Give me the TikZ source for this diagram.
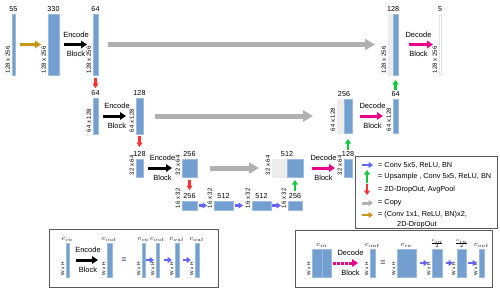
\documentclass[tikz,border=0pt]{standalone}
\usepackage{fontspec}
\setmainfont{Liberation Sans}
\usetikzlibrary{arrows.meta,fit}

\definecolor{barblue}{RGB}{114,159,207}
\definecolor{litegray}{RGB}{236,236,236}
\definecolor{cpygray}{RGB}{176,176,176}
\definecolor{gold}{RGB}{200,150,20}
\definecolor{convblue}{RGB}{100,100,255}
\definecolor{upgreen}{RGB}{20,200,60}
\definecolor{dropred}{RGB}{255,50,50}
\definecolor{panelgray}{RGB}{90,90,90}

\newcommand{\layer}[5]{\node[bar,fit={(#2,#3) (#4,#5)}] (#1) {};}

\begin{document}
\begin{tikzpicture}[x=1pt, y=-1pt,
    bar/.style={fill=barblue, draw=barblue!70!white, line width=0.5pt, inner sep=0pt, outer sep=0pt},
    lite/.style={bar, fill=litegray, draw=litegray},
    num/.style={font=\fontsize{7.2}{8}\selectfont, above=1.5pt, inner sep=1pt},
    dim/.style={font=\fontsize{6}{7}\selectfont, rotate=90, anchor=south west, inner sep=1.8pt},
    wh/.style={dim, font=\fontsize{4.8}{5}\selectfont, inner sep=1.5pt},
    cc/.style={font=\fontsize{7}{8}\selectfont, above=0.5pt, inner sep=0.5pt},
    blk/.style={font=\fontsize{7.5}{9}\selectfont, inner sep=2.5pt, text=black},
    lgd/.style={font=\fontsize{7.3}{8}\selectfont, anchor=west, inner sep=1pt},
    fat/.style={line width=3pt, -{Triangle[length=6pt,width=7.5pt]}},
    enc/.style={fat, black},
    dec/.style={fat, magenta},
    ini/.style={fat, gold},
    cpy/.style={line width=5pt, cpygray, -{Triangle[length=10pt,width=11pt]}},
    small/.style={line width=2.5pt, -{Triangle[length=4.5pt,width=6pt]}},
    conv/.style={small, convblue},
    upa/.style={small, upgreen},
    drop/.style={small, dropred},
    panel/.style={draw=panelgray, line width=0.8pt, inner sep=0pt}]
  \useasboundingbox (0,0) rectangle (500,292);

  % encoder
  \layer{i0}{12}{14}{15}{75}
  \layer{i1}{48}{14}{59}{75}
  \layer{e1}{93}{14}{98}{75}
  \layer{e2a}{93}{98}{98}{134}
  \layer{e2}{136}{98}{143}{134}
  \layer{e3a}{136}{159}{143}{177}
  \layer{e3}{182}{159}{197}{177}
  % bottleneck
  \layer{b1}{182}{201}{197}{210}
  \layer{b2}{214}{201}{233}{210}
  \layer{b3}{252}{201}{271}{210}
  \layer{b4}{288}{201}{302}{210}
  % decoder
  \node[lite, fit={(272,159) (287,177)}] (d3l) {};
  \layer{d3}{287}{159}{303}{177}
  \layer{u3}{344}{159}{352}{177}
  \node[lite, fit={(337,99) (344,133)}] (d2l) {};
  \layer{d2}{344}{99}{352}{133}
  \layer{u2}{393}{99}{398}{133}
  \node[lite, fit={(388,14) (393,75)}] (d1l) {};
  \layer{d1}{393}{14}{398}{75}
  \node[bar, fill=white, draw=gray!20, fit={(439,14) (441,75)}] (out) {};

  \foreach \n/\t in {i0/55, i1/330, e1/64, e2a/64, e2/128, e3a/128, e3/256, b1/256, b2/512, b3/512, b4/256, u3/128, u2/64, out/5}
    \node[num] (\n-t) at (\n.north) {\t};
  \node[num] (d1-t) at (d1l.north east) {128};
  \node[num] (d2-t) at (d2l.north east) {256};
  \node[num] (d3-t) at (d3l.north east) {512};

  \foreach \n/\t in {i0/128 x 256, i1/128 x 256, e1/128 x 256, d1l/128 x 256, out/128 x 256, e2a/64 x 128, e2/64 x 128, d2l/64 x 128, u2/64 x 128, e3a/32 x 64, e3/32 x 64, d3l/32 x 64, u3/32 x 64, b1/16 x 32, b2/16 x 32, b3/16 x 32, b4/16 x 32}
    \node[dim] (\n-d) at (\n.south west) {\t};

  \draw[ini, shorten <=5pt, shorten >=7pt] (i0) -- (i1);
  \draw[enc, shorten <=5pt, shorten >=6pt] (i1) -- node[blk, above=3pt] (en1) {Encode} node[blk, below=3pt] (bl1) {Block} (e1);
  \draw[enc, shorten <=5pt, shorten >=10pt] (e2a) -- node[blk, above=3pt] (en2) {Encode} node[blk, below=3pt] (bl2) {Block} (e2);
  \draw[enc, shorten <=5pt, shorten >=10pt] (e3a) -- node[blk, above=3pt] (en3) {Encode} node[blk, below=3pt] (bl3) {Block} (e3);

  \draw[cpy, shorten <=10pt, shorten >=13pt] (e1) -- (d1l);
  \draw[cpy, shorten <=12pt, shorten >=24pt] (e2) -- (d2l);
  \draw[cpy, shorten <=13pt, shorten >=13pt] (e3) -- (d3l);

  \draw[dec, shorten <=11pt, shorten >=6pt] (d1) -- node[blk, above=3pt] (de1) {Decode} node[blk, below=3pt] (dk1) {Block} (out);
  \draw[dec, shorten <=8pt, shorten >=10pt] (d2) -- node[blk, above=3pt] (de2) {Decode} node[blk, below=3pt] (dk2) {Block} (u2);
  \draw[dec, shorten <=9pt, shorten >=9pt] (d3) -- node[blk, above=3pt] (de3) {Decode} node[blk, below=3pt] (dk3) {Block} (u3);

  \draw[drop, shorten <=3pt, shorten >=10pt] (e1) -- (e2a);
  \draw[drop, shorten <=2pt, shorten >=12pt] (e2) -- (e3a);
  \draw[drop, shorten <=3pt, shorten >=11pt] (e3) -- (b1);
  \draw[upa, shorten <=10pt, shorten >=3pt] (b4) -- (d3);
  \draw[upa, shorten <=9pt, shorten >=6pt] (u3) -- (d2);
  \draw[upa, shorten <=9pt, shorten >=5pt] (u2) -- (d1);

  \draw[conv, shorten <=2pt, shorten >=7pt] (b1) -- (b2);
  \draw[conv, shorten <=2pt, shorten >=9pt] (b2) -- (b3);
  \draw[conv, shorten <=1pt, shorten >=7pt] (b3) -- (b4);

  % legend
  \node[panel, fit={(355,156) (497,228)}] (lg) {};
  \node[lgd] (l1) at (377,165) {= Conv 5x5, ReLU, BN};
  \node[lgd] (l2) at (377,177) {= Upsample , Conv 5x5, ReLU, BN};
  \node[lgd] (l3) at (377,190) {= 2D-DropOut, AvgPool};
  \node[lgd] (l4) at (377,203) {= Copy};
  \node[lgd] (l5) at (377,215) {= (Conv 1x1, ReLU, BN)x2,};
  \node[lgd] (l6) at (396,225) {2D-DropOut};
  \draw[conv] ([xshift=-15pt]l1.west) -- ++(11,0);
  \draw[upa] ([xshift=-10pt,yshift=-6pt]l2.west) -- ++(0,-13);
  \draw[drop] ([xshift=-10pt,yshift=6pt]l3.west) -- ++(0,11);
  \draw[cpy, line width=3pt, -{Triangle[length=4.5pt,width=6pt]}] ([xshift=-15pt]l4.west) -- ++(11,0);
  \draw[ini, line width=2.5pt, -{Triangle[length=4.5pt,width=6pt]}] ([xshift=-15pt]l5.west) -- ++(11,0);

  % encode block panel
  \node[panel, fit={(49,229) (218,287)}] (ep) {};
  \layer{p1}{66}{243}{69}{277}
  \layer{p2}{107}{243}{112}{277}
  \layer{p3}{142}{243}{145}{277}
  \layer{p4}{156}{243}{159}{277}
  \layer{p5}{175}{243}{179}{277}
  \layer{p6}{195}{243}{199}{277}
  \foreach \n/\t in {p1/in, p2/out, p3/in, p4/out, p5/out, p6/out}
    \node[cc] (\n-t) at (\n.north) {$c_{\t}$};
  \foreach \n in {p1, p2, p3, p4, p5, p6}
    \node[wh] (\n-d) at (\n.south west) {W x H};
  \draw[enc, shorten <=7pt, shorten >=9pt] (p1) -- node[blk, above=3pt] (en4) {Encode} node[blk, below=3pt] (bl4) {Block} (p2);
  \node[font=\fontsize{9}{10}\selectfont] (eq1) at (124,260) {=};
  \draw[conv, shorten <=1pt, shorten >=2pt] (p3) -- (p4);
  \draw[conv, shorten <=5pt, shorten >=3pt] (p4) -- (p5);
  \draw[conv, shorten <=4pt, shorten >=4pt] (p5) -- (p6);

  % decode block panel
  \node[panel, fit={(295,230) (492,287)}] (dp) {};
  \layer{q1a}{312}{249}{322}{277}
  \layer{q1}{322}{249}{331}{277}
  \layer{q2}{370}{249}{375}{277}
  \layer{q3}{397}{249}{416}{277}
  \layer{q4}{432}{249}{442}{277}
  \layer{q5}{457}{249}{466}{277}
  \layer{q6}{479}{249}{484}{277}
  \node[cc] (q1-t) at (q1a.north east) {$c_{in}$};
  \foreach \n/\t in {q2/out, q3/in, q6/out}
    \node[cc] (\n-t) at (\n.north) {$c_{\t}$};
  \foreach \n in {q4, q5}
    \node[cc] (\n-t) at (\n.north) {$\frac{c_{in}}{2}$};
  \foreach \n in {q1a, q2, q3, q4, q5, q6}
    \node[wh] (\n-d) at (\n.south west) {W x H};
  \draw[dec, densely dotted, shorten <=2pt, shorten >=12pt] (q1) -- node[blk, above=3pt] (de4) {Decode} node[blk, below=3pt] (dk4) {Block} (q2);
  \node[font=\fontsize{9}{10}\selectfont] (eq2) at (383,263) {=};
  \draw[conv, shorten <=4pt, shorten >=4pt] (q3) -- (q4);
  \draw[conv, shorten <=4pt, shorten >=4pt] (q4) -- (q5);
  \draw[conv, shorten <=2pt, shorten >=2pt] (q5) -- (q6);
\end{tikzpicture}
\end{document}
